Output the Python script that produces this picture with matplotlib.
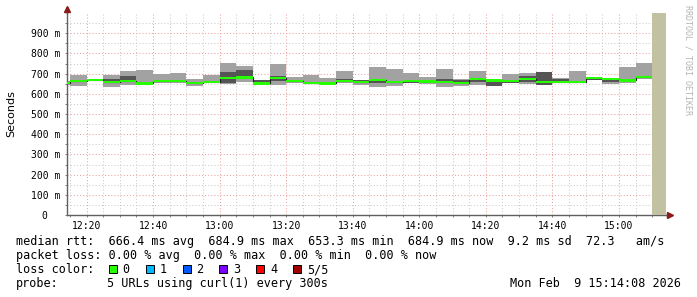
import matplotlib
matplotlib.use('Agg')
import matplotlib.pyplot as plt
import matplotlib.dates as mdates
import matplotlib.ticker as ticker
from matplotlib.patches import Rectangle
import numpy as np
import pandas as pd

W, H = 697, 297
MONO = 'DejaVu Sans Mono'

# 5 pings per step (sorted), ms
ping_min = [645, 638, 662, 635, 646, 646, 651, 652, 638, 652, 648, 658, 646, 643, 651, 648, 646, 653,
            642, 635, 640, 651, 650, 633, 638, 645, 637, 651, 648, 643, 652, 651, 668, 649, 655, 674]
ping_2nd = [650, 660, 664, 655, 660, 648, 660, 658, 648, 655, 652, 672, 648, 665, 660, 651, 649, 660,
            655, 652, 652, 655, 654, 658, 650, 656, 640, 655, 660, 646, 655, 653, 670, 660, 660, 676]
ping_med = [653, 664, 667, 657, 663, 651, 665, 662, 652, 659, 678, 681, 651, 680, 665, 654, 651, 664,
            660, 668, 660, 662, 661, 660, 655, 675, 666, 662, 675, 658, 658, 657, 677, 672, 666, 685]
ping_4th = [657, 670, 669, 671, 690, 655, 668, 667, 660, 663, 708, 718, 666, 686, 668, 660, 658, 672,
            668, 675, 665, 668, 668, 672, 670, 680, 670, 667, 690, 706, 673, 662, 680, 676, 670, 688]
ping_max = [665, 694, 672, 694, 715, 720, 697, 704, 673, 693, 753, 737, 669, 747, 681, 693, 678, 713,
            670, 731, 721, 705, 684, 722, 673, 713, 673, 697, 702, 710, 677, 712, 682, 678, 732, 752]

step_start = pd.date_range('2026-02-09 12:10', periods=len(ping_med), freq='5min')
t_start = pd.Timestamp('2026-02-09 12:14:08')
t_now = pd.Timestamp('2026-02-09 15:14:08')

legend_rows = [
    'median rtt:  666.4 ms avg  684.9 ms max  653.3 ms min  684.9 ms now  9.2 ms sd  72.3   am/s',
    'packet loss: 0.00 % avg  0.00 % max  0.00 % min  0.00 % now',
]
loss_labels = ['0', '1', '2', '3', '4', '5/5']
loss_colors = ['#26ff00', '#00b8ff', '#0059ff', '#7e00ff', '#ff0000', '#a10000']

lo = np.array(ping_min)
p2 = np.array(ping_2nd)
med = np.array(ping_med)
p4 = np.array(ping_4th)
hi = np.array(ping_max)
step = 5 / 1440.0


def fx(x):
    return x / W


def fy(y):
    return 1 - y / H


fig = plt.figure(figsize=(W / 100, H / 100), dpi=100)
ax = fig.add_axes([fx(67), fy(215), fx(666) - fx(67), fy(13) - fy(215)])

# smoke
ax.bar(step_start, hi - lo, bottom=lo, width=step, align='edge', color='#a2a2a2', linewidth=0, zorder=2)
ax.bar(step_start, p4 - p2, bottom=p2, width=step, align='edge', color='#555555', linewidth=0, zorder=3)
# median
t_edges = list(step_start) + [step_start[-1] + pd.Timedelta(minutes=5)]
ax.step(t_edges, list(med) + [med[-1]], where='post', color='#202020', lw=0.8, zorder=4)
ax.bar(step_start, 11, bottom=med - 5.5, width=step, align='edge', color=loss_colors[0], linewidth=0, zorder=5)

# not yet measured
ax.axvspan(t_edges[-1], t_now, color='#c2c2a2', lw=0, zorder=6)

ax.set_xlim(t_start, t_now)
ax.set_ylim(0, 1000)

ax.xaxis.set_major_locator(mdates.MinuteLocator(byminute=[0, 20, 40]))
ax.xaxis.set_minor_locator(mdates.MinuteLocator(byminute=range(0, 60, 5)))
ax.xaxis.set_major_formatter(mdates.DateFormatter('%H:%M'))
ax.set_yticks(np.arange(0, 901, 100))
ax.set_yticks(np.arange(50, 951, 100), minor=True)
ax.yaxis.set_major_formatter(ticker.FuncFormatter(lambda v, p: '%d m' % v if v > 0 else '0  '))

dots = (0, (1, 2))
ax.grid(which='minor', color='#cccccc', linestyle=dots, lw=0.75)
ax.grid(which='major', color='#eba3a3', linestyle=dots, lw=0.75)
ax.set_axisbelow(True)

for s in ['top', 'right']:
    ax.spines[s].set_visible(False)
for s in ['left', 'bottom']:
    ax.spines[s].set_color('#606060')
    ax.spines[s].set_linewidth(1.0)
ax.tick_params(which='both', direction='out', length=1.6, width=0.7, color='#808080')
ax.tick_params(axis='y', which='major', pad=3.4)
ax.tick_params(axis='x', which='major', pad=2.6)
for lab in ax.get_xticklabels() + ax.get_yticklabels():
    lab.set_fontfamily(MONO)
    lab.set_fontsize(7)

# axis arrows
ax.plot([0, 0], [1, 1.02], transform=ax.transAxes, color='#606060', lw=1, clip_on=False)
ax.plot([1, 1.006], [0, 0], transform=ax.transAxes, color='#606060', lw=1, clip_on=False)
ax.plot([0], [1.02], marker='^', ms=4, color='#8b1a1a', transform=ax.transAxes, clip_on=False)
ax.plot([1.006], [0], marker='>', ms=4, color='#8b1a1a', transform=ax.transAxes, clip_on=False)

fig.text(fx(11), fy(113.5), 'Seconds', rotation=90, ha='center', va='center',
         fontsize=8, family='DejaVu Sans')
fig.text(fx(688), fy(5), 'RRDTOOL / TOBI OETIKER', rotation=270, ha='center', va='top',
         fontsize=6, family=MONO, color='#b4b4b4')

# legend
fs = 8.5
fig.text(fx(16), fy(245.2), legend_rows[0], family=MONO, fontsize=fs, va='baseline')
fig.text(fx(16), fy(259.2), legend_rows[1], family=MONO, fontsize=fs, va='baseline')
fig.text(fx(16), fy(273.2), 'loss color:', family=MONO, fontsize=fs, va='baseline')
for i, (lab, col) in enumerate(zip(loss_labels, loss_colors)):
    x0 = 108.7 + i * 36.9
    fig.patches.append(Rectangle((fx(x0), fy(273)), 8 / W, 8 / H, transform=fig.transFigure,
                                 facecolor=col, edgecolor='black', lw=0.7))
    fig.text(fx(x0 + 14), fy(273.2), lab, family=MONO, fontsize=fs, va='baseline')
fig.text(fx(16), fy(287.2), 'probe:', family=MONO, fontsize=fs, va='baseline')
fig.text(fx(107.3), fy(287.2), '5 URLs using curl(1) every 300s', family=MONO, fontsize=fs, va='baseline')
fig.text(fx(681), fy(287.2), 'Mon Feb  9 15:14:08 2026', family=MONO, fontsize=fs, va='baseline', ha='right')

fig.savefig('out.png', dpi=100)
